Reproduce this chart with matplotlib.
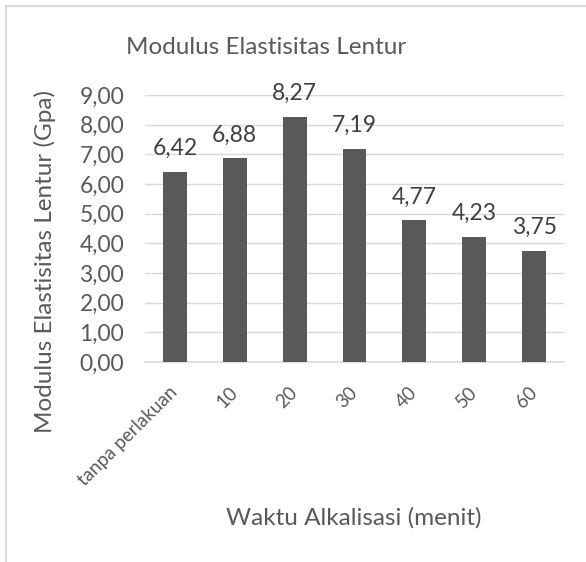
import matplotlib
matplotlib.use("Agg")
import matplotlib.pyplot as plt
from matplotlib.lines import Line2D

categories = ["tanpa perlakuan", "10", "20", "30", "40", "50", "60"]
values = [6.42, 6.88, 8.27, 7.19, 4.77, 4.23, 3.75]
yticks = [0, 1, 2, 3, 4, 5, 6, 7, 8, 9]

plt.rcParams['font.family'] = ['Lato', 'DejaVu Sans']

W, H = 586, 562
fig = plt.figure(figsize=(W / 100, H / 100), dpi=100)
ax = fig.add_axes([145 / W, 1 - 362 / H, (564 - 145) / W, (362 - 95) / H])

x = list(range(len(categories)))
ax.bar(x, values, width=0.4, color="#595959", zorder=3)
ax.set_xlim(-0.5, len(categories) - 0.5)
ax.set_ylim(0, 9)
ax.set_yticks(yticks)
ax.set_yticklabels([f"{v:.2f}".replace(".", ",") for v in yticks],
                   fontsize=16.5, color="#595959")
ax.set_xticks(x)
ax.set_xticklabels(categories, rotation=45, ha="right", va="center",
                   rotation_mode="anchor", fontsize=13.5, color="#595959")
ax.tick_params(axis="y", length=0, pad=15)
ax.tick_params(axis="x", length=0, pad=20)
ax.grid(axis="y", color="#d9d9d9", linewidth=1, zorder=0)
for s in ["top", "right", "left"]:
    ax.spines[s].set_visible(False)
ax.spines["bottom"].set_color("#d9d9d9")
ax.spines["bottom"].set_linewidth(1.2)

for xi, v in zip(x, values):
    ax.annotate(f"{v:.2f}".replace(".", ","), (xi, v), xytext=(0, 9),
                textcoords="offset points", ha="center", va="bottom",
                fontsize=16.5, color="#404040", zorder=4)

fig.text(266 / W, 1 - 48 / H, "Modulus Elastisitas Lentur", ha="center", va="center",
         fontsize=17.5, color="#595959")
fig.text(45 / W, 1 - 262 / H, "Modulus Elastisitas Lentur (Gpa)", ha="center", va="center",
         rotation=90, fontsize=17.5, color="#595959")
fig.text(354 / W, 1 - 518 / H, "Waktu Alkalisasi (menit)", ha="center", va="center",
         fontsize=17.5, color="#595959")

# chart border (top and left visible)
fig.add_artist(Line2D([6 / W, 1.0], [1 - 6 / H, 1 - 6 / H], color="#d9d9d9", linewidth=1.5,
                      transform=fig.transFigure))
fig.add_artist(Line2D([6 / W, 6 / W], [0, 1 - 6 / H], color="#d9d9d9", linewidth=1.5,
                      transform=fig.transFigure))

fig.savefig("out.png", dpi=100, facecolor="white")
